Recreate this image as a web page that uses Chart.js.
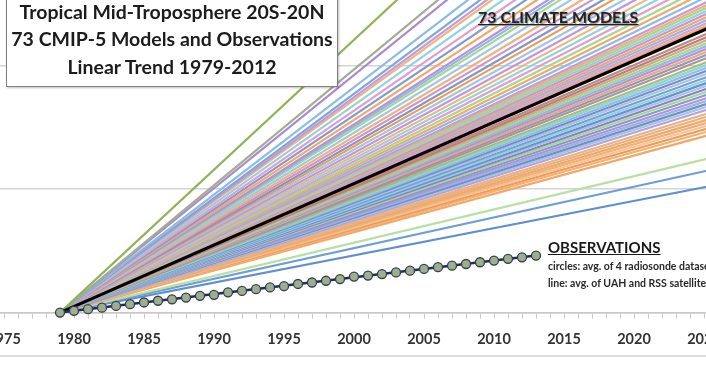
<!DOCTYPE html>
<html>
<head>
<meta charset="utf-8">
<script src="https://cdn.jsdelivr.net/npm/chart.js@4.4.1/dist/chart.umd.min.js"></script>
<style>
html,body{margin:0;padding:0;width:706px;height:382px;overflow:hidden;background:#fff;}
#wrap{position:absolute;left:0;top:0;width:900px;height:500px;}
#frame{position:absolute;left:0;top:355px;width:706px;height:0;border-top:2px solid #dcdcdc;}
#title{position:absolute;left:6px;top:-6px;width:332px;height:93px;box-sizing:border-box;border:1.5px solid #7f7f7f;background:#fff;
  box-shadow:1px 1px 2px rgba(0,0,0,0.25);text-align:center;font:bold 19.5px Lato,sans-serif;line-height:27.5px;color:#1c1c1c;padding-top:2.8px;white-space:nowrap;}
#models{position:absolute;left:478px;top:8px;font:bold 16px Lato,sans-serif;line-height:18px;color:#222;text-decoration:underline;text-shadow:1px 1px 1px #9a9a9a;white-space:nowrap;}
#obsH{position:absolute;left:548px;top:238px;font:bold 15px Lato,sans-serif;line-height:18px;color:#1a1a1a;text-decoration:underline;white-space:nowrap;}
.sub{position:absolute;left:548px;font:bold 10.5px Lato,sans-serif;line-height:17px;color:#2a2a2a;white-space:nowrap;}
</style>
</head>
<body>
<div id="wrap"><canvas id="c"></canvas></div>
<div id="frame"></div>
<div id="title">Tropical Mid-Troposphere 20S-20N<br>73 CMIP-5 Models and Observations<br>Linear Trend 1979-2012</div>
<div id="models">73 CLIMATE MODELS</div>
<div id="obsH">OBSERVATIONS</div>
<div class="sub" style="top:258px">circles: avg. of 4 radiosonde datasets</div>
<div class="sub" style="top:275px">line: avg. of UAH and RSS satellite datasets</div>
<script>
// ---------- data (°C, relative to 1979) ----------
const START_YEAR = 1979;
const END_YEAR = 2025.2;          // year at the right edge of the picture

// 73 model trend lines: value reached at END_YEAR
const MODEL_END = [
  2.432, 2.168, 2.118, 2.009, 1.951, 1.920, 1.897, 1.850, 1.801, 1.759,
  1.718, 1.679, 1.660, 1.639, 1.604, 1.570, 1.540, 1.509, 1.482, 1.453,
  1.425, 1.398, 1.373, 1.348, 1.324, 1.301, 1.280,
  1.259, 1.247, 1.235, 1.223, 1.211, 1.198, 1.186, 1.174, 1.162, 1.130,
  1.117, 1.105, 1.093, 1.081, 1.069, 1.057, 1.045, 1.032, 1.016, 1.004,
  0.992, 0.980, 0.968, 0.955, 0.943, 0.931, 0.919, 0.907, 0.895, 0.883,
  0.870, 0.858, 0.846, 0.834, 0.822, 0.806, 0.794, 0.781, 0.769, 0.757,
  0.745, 0.733, 0.717,
  0.623, 0.575, 0.510
];
const MODEL_COLORS = [
  '#8fb35a','#a3ad93','#a98bd0','#8dbbe6','#7fa6d8','#c49ade','#f0b57c','#8fd3de','#e39bd2','#7f9ccf',
  '#f2a866','#b98fd6','#8dbbe6','#a9d58e','#9cc6ea','#efb27a','#d291c8','#7d96cc','#f39a50','#9cc6ea',
  '#bf95dc','#f0b57c','#8fd3de','#e39bd2','#a9d58e','#f2a866','#8dbbe6',
  '#c49ade','#efb27a','#a9d58e','#8fd3de','#d291c8','#f2a866','#8dbbe6','#e39bd2','#e9ad78','#bd8a86',
  '#b58080','#d1ad80','#a9d58e','#8dbbe6','#b98fd6','#f2a866','#7f9ccf','#c08e8a','#9dc47c','#8fd3de',
  '#8dbbe6','#7b8cc0','#9cc6ea','#7f9ccf','#8fd3de','#6f8fcc','#9cc6ea','#8d80c0','#a9d58e','#7f9ccf',
  '#b98fd6','#8dbbe6','#7b8cc0','#9cc6ea','#b9a0dc','#efb27a','#e0b48a','#f2a866','#efb27a','#f5c39c',
  '#f39a50','#efb27a','#f2a866',
  '#b9e0a2','#6f9ed6','#5f8fd0'
];
// model mean (black line)
const MEAN_END = 1.150;

// observations
const OBS_YEARS = [1979,1980,1981,1982,1983,1984,1985,1986,1987,1988,1989,1990,1991,1992,1993,1994,1995,1996,
  1997,1998,1999,2000,2001,2002,2003,2004,2005,2006,2007,2008,2009,2010,2011,2012,2013];
const OBS_RADIOSONDE = [0.000,0.007,0.014,0.020,0.027,0.034,0.041,0.048,0.054,0.061,0.068,0.072,0.082,0.088,
  0.095,0.102,0.107,0.116,0.122,0.129,0.136,0.146,0.150,0.156,0.163,0.170,0.177,0.184,0.190,0.197,0.204,
  0.211,0.218,0.224,0.231];
const OBS_SAT_YEARS = [1979, 2013];
const OBS_SAT = [0.000, 0.231];

const TICK_LABELS = ['1975','1980','1985','1990','1995','2000','2005','2010','2015','2020','2025'];

// ---------- layout ----------
const X_MIN = 1970, X_MAX = 2031, Y_MAX = 1.6;
const PX_YEAR = 14, PX_UNIT = 247, ORIGIN_X = 60, ORIGIN_Y = 313;

const datasets = [];
datasets.push({
  data: OBS_YEARS.map((y,i)=>({x:y, y:OBS_RADIOSONDE[i]})),
  showLine:false, pointRadius:4.5, pointBackgroundColor:'#9fae8c', pointBorderColor:'#34405a',
  pointBorderWidth:1.3, order:0, clip:false
});
datasets.push({
  data: OBS_SAT_YEARS.map((y,i)=>({x:y, y:OBS_SAT[i]})),
  borderColor:'#1f2d5c', borderWidth:2.5, pointRadius:0, order:1, clip:false
});
datasets.push({
  data:[{x:START_YEAR,y:0},{x:END_YEAR,y:MEAN_END}],
  borderColor:'#000', borderWidth:3.2, pointRadius:0, order:2, clip:false
});
MODEL_END.forEach((v,i)=>{
  datasets.push({
    data:[{x:START_YEAR,y:0},{x:END_YEAR,y:v}],
    borderColor:MODEL_COLORS[i], borderWidth:2.2, pointRadius:0, order:3
  });
});

const wrap = document.getElementById('wrap');
const chart = new Chart(document.getElementById('c'), {
  type:'line',
  data:{datasets},
  options:{
    responsive:true, maintainAspectRatio:false, animation:false, events:[],
    layout:{padding:0},
    plugins:{legend:{display:false}, tooltip:{enabled:false}},
    elements:{line:{tension:0}},
    scales:{
      x:{type:'linear', min:X_MIN, max:X_MAX,
        ticks:{stepSize:1, maxTicksLimit:200, autoSkip:false, maxRotation:0, minRotation:0, padding:12,
          color:'#333', font:{family:'Lato', weight:'bold', size:14.5},
          callback:v=>TICK_LABELS.includes(String(v))?String(v):''},
        grid:{drawOnChartArea:false, drawTicks:true, tickLength:6, color:'#c8c8c8', tickWidth:1},
        border:{display:true, color:'#c8c8c8', width:1.5}},
      y:{type:'linear', min:0, max:Y_MAX,
        ticks:{display:false, stepSize:0.5},
        grid:{color:'#d4d4d4', lineWidth:1.5, drawTicks:false},
        border:{display:false}}
    }
  }
});

function fit(){
  const ca = chart.chartArea;
  const W = Math.round(wrap.clientWidth + ((X_MAX-X_MIN)*PX_YEAR - (ca.right-ca.left)));
  const H = Math.round(wrap.clientHeight + (Y_MAX*PX_UNIT - (ca.bottom-ca.top)));
  wrap.style.width = W+'px'; wrap.style.height = H+'px';
  chart.resize(W,H);
  const x0 = chart.scales.x.getPixelForValue(START_YEAR);
  const y0 = chart.scales.y.getPixelForValue(0);
  wrap.style.left = (ORIGIN_X - x0)+'px';
  wrap.style.top = (ORIGIN_Y - y0)+'px';
}
fit(); fit();
</script>
</body>
</html>
